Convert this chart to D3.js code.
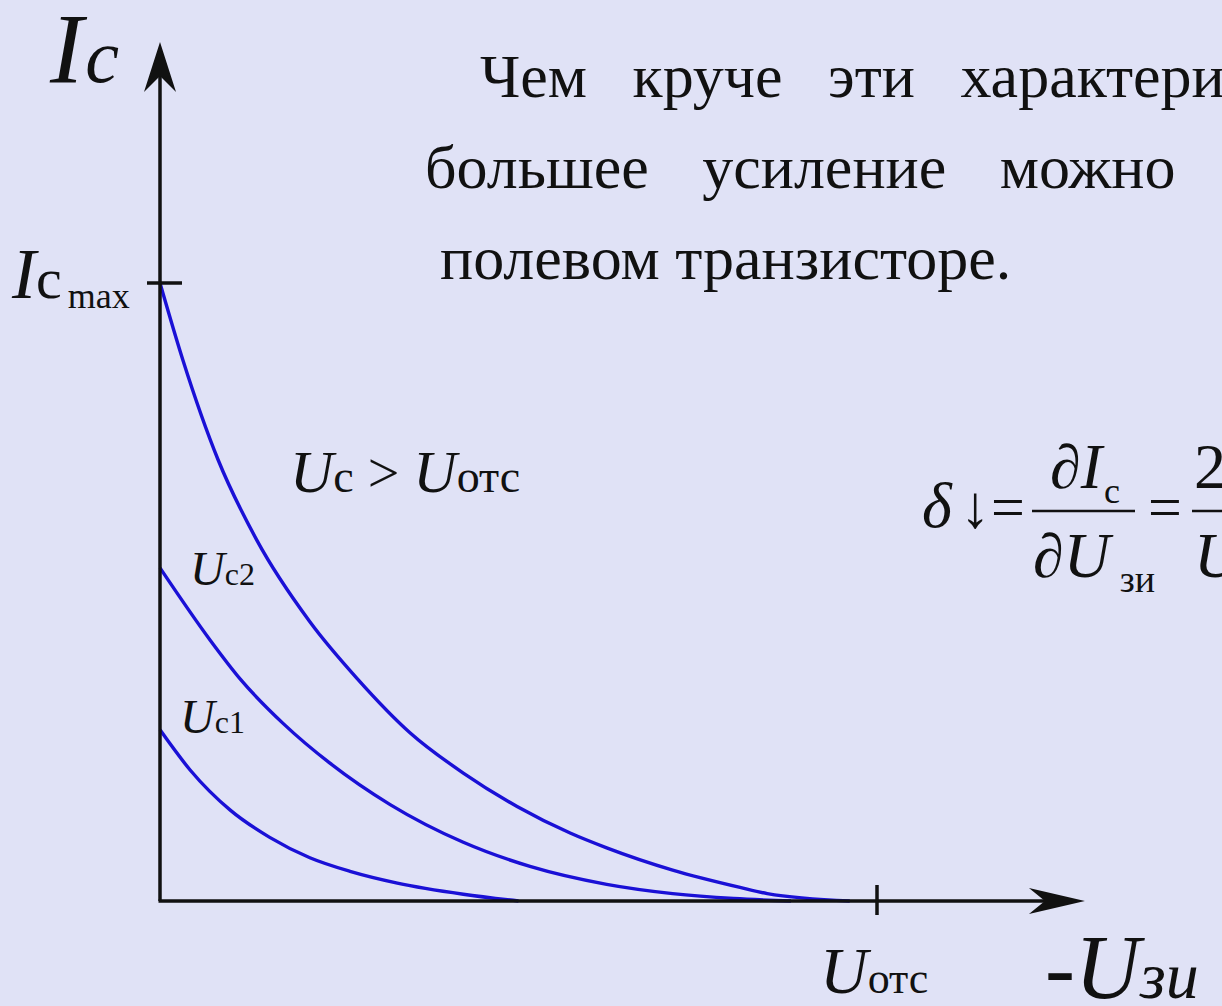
<!DOCTYPE html>
<html>
<head>
<meta charset="utf-8">
<script src="https://cdn.jsdelivr.net/npm/d3@7"></script>
<style>
  html, body { margin: 0; padding: 0; background: #e0e2f6; }
  svg { display: block; }
</style>
</head>
<body>
<div id="chart"></div>
<script>
// transfer characteristics: -Uзи / Uотс  vs  Ic / Ic max
const curveLabels = ["Uc1", "Uc2", "Uc > Uотс"];
const lowX = [0, 0.042, 0.098, 0.153, 0.209, 0.265, 0.331, 0.423, 0.50];
const lowY = [0.277, 0.212, 0.147, 0.103, 0.070, 0.048, 0.029, 0.011, 0];
const midX = [0, 0.070, 0.112, 0.172, 0.237, 0.321, 0.423, 0.516, 0.623, 0.715, 0.80, 0.88];
const midY = [0.539, 0.422, 0.359, 0.287, 0.223, 0.156, 0.095, 0.056, 0.027, 0.012, 0.004, 0];
const topX = [0, 0.032, 0.081, 0.135, 0.209, 0.275, 0.349, 0.423, 0.498, 0.572, 0.623, 0.715, 0.809, 0.847, 0.962];
const topY = [1, 0.875, 0.714, 0.584, 0.452, 0.360, 0.272, 0.207, 0.153, 0.110, 0.086, 0.050, 0.022, 0.012, 0];
const tickValues = [1]; // Ic max on y, Uотс on x
const textLines = [
  "Чем круче эти характеристики, тем",
  "большее усиление можно получить на",
  "полевом транзисторе."
];

const width = 1222;
const height = 1006;
const serif = "'Liberation Serif', 'Times New Roman', serif";
const curveColor = "#1a10d6";
const axisColor = "#111";

const xScale = d3.scaleLinear([0, 1], [160, 877]);
const yScale = d3.scaleLinear([0, 1], [901, 283]);
const xEnd = 1.29; // arrow tip
const yEnd = 1.39;

const svg = d3.select("#chart")
  .append("svg")
  .attr("width", width)
  .attr("height", height)
  .attr("viewBox", [0, 0, width, height]);

svg.append("rect")
  .attr("width", width)
  .attr("height", height)
  .attr("fill", "#e0e2f6");

// curves
const line = d3.line()
  .x((d) => xScale(d[0]))
  .y((d) => yScale(d[1]))
  .curve(d3.curveMonotoneX);

const series = [d3.zip(lowX, lowY), d3.zip(midX, midY), d3.zip(topX, topY)];

svg.append("g")
  .selectAll("path")
  .data(series)
  .join("path")
  .attr("d", line)
  .attr("fill", "none")
  .attr("stroke", curveColor)
  .attr("stroke-width", 3.4);

// axes
const axes = svg.append("g").attr("stroke", axisColor).attr("stroke-width", 3.5);
axes.append("line")
  .attr("x1", xScale(0)).attr("y1", yScale(0))
  .attr("x2", xScale(0)).attr("y2", yScale(yEnd) + 20);
axes.append("line")
  .attr("x1", xScale(0) - 1.5).attr("y1", yScale(0))
  .attr("x2", xScale(xEnd) - 20).attr("y2", yScale(0));

// ticks
axes.selectAll(".ytick")
  .data(tickValues)
  .join("line")
  .attr("x1", xScale(0) - 13).attr("x2", xScale(0) + 22)
  .attr("y1", (d) => yScale(d)).attr("y2", (d) => yScale(d));
axes.selectAll(".xtick")
  .data(tickValues)
  .join("line")
  .attr("x1", (d) => xScale(d)).attr("x2", (d) => xScale(d))
  .attr("y1", yScale(0) - 16).attr("y2", yScale(0) + 14);

// arrow heads
const ax = xScale(0), ay = yScale(yEnd);
svg.append("path")
  .attr("d", `M${ax},${ay} L${ax + 16},${ay + 50} L${ax},${ay + 34} L${ax - 16},${ay + 50} Z`)
  .attr("fill", axisColor);
const bx = xScale(xEnd), by = yScale(0);
svg.append("path")
  .attr("d", `M${bx},${by} L${bx - 56},${by + 13} L${bx - 40},${by} L${bx - 56},${by - 13} Z`)
  .attr("fill", axisColor);

// labels
function label(x, y, parts) {
  const t = svg.append("text")
    .attr("x", x).attr("y", y)
    .attr("font-family", serif)
    .attr("fill", "#111");
  parts.forEach(([s, size, italic, dy, dx]) => {
    t.append("tspan")
      .attr("font-size", size)
      .attr("font-style", italic ? "italic" : "normal")
      .attr("dy", dy || 0)
      .attr("dx", dx || 0)
      .text(s);
  });
  return t;
}

label(50, 82, [["I", 100, true], ["c", 76, true, 0, 2]]);
label(12, 298, [["I", 72, true], ["c", 58, false, 0, 0], ["max", 36, false, 10, 6]]);
label(290, 492, [["U", 60, true], ["c", 46, false], [" > ", 56, false], ["U", 60, true], ["отс", 46, false]]);
label(190, 585, [["U", 48, true], ["c2", 32, false]]);
label(180, 733, [["U", 48, true], ["c1", 32, false]]);
label(xScale(1) - 57, 993, [["U", 66, true], ["отс", 44, false, 0, 0]]);
label(1045, 998, [["-", 90, false], ["U", 90, true], ["зи", 66, true]]);

// paragraph
const para = svg.append("g")
  .attr("font-family", serif)
  .attr("font-size", 62)
  .attr("fill", "#111");
const lineX = [480, 425, 440];
const lineY = [97, 188, 279];
const lineSpacing = [30, 38, 0];
para.selectAll("text")
  .data(textLines)
  .join("text")
  .attr("x", (d, i) => lineX[i])
  .attr("y", (d, i) => lineY[i])
  .attr("word-spacing", (d, i) => lineSpacing[i])
  .text((d) => d);

// formula  δ↓ = ∂Ic/∂Uзи = 2Ic max/Uотс
const f = svg.append("g").attr("font-family", serif).attr("fill", "#111");
label(922, 527, [["δ", 64, true]]);
label(960, 527, [["↓", 60, false]]);
label(991, 527, [["=", 60, false]]);
f.append("line").attr("x1", 1032).attr("x2", 1135).attr("y1", 511).attr("y2", 511)
  .attr("stroke", "#111").attr("stroke-width", 2.5);
label(1050, 488, [["∂", 62, true], ["I", 64, true], ["c", 36, false, 15, 2]]);
label(1033, 577, [["∂", 62, true], ["U", 64, true], ["зи", 38, false, 15, 10]]);
label(1148, 527, [["=", 60, false]]);
f.append("line").attr("x1", 1192).attr("x2", 1300).attr("y1", 511).attr("y2", 511)
  .attr("stroke", "#111").attr("stroke-width", 2.5);
label(1194, 488, [["2", 64, false], ["I", 64, true]]);
label(1194, 577, [["U", 64, true], ["отс", 40, false]]);
</script>
</body>
</html>
